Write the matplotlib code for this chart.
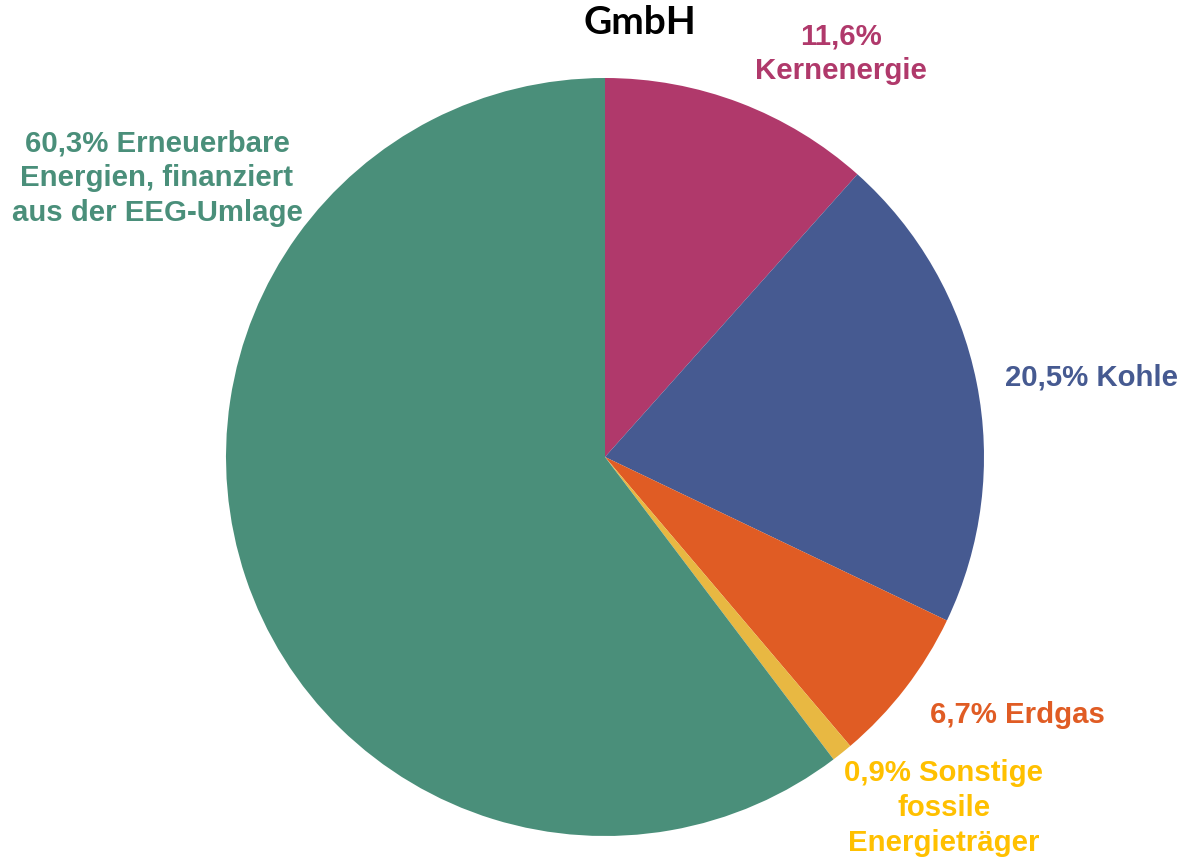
import matplotlib.pyplot as plt

# data
categories = ['Kernenergie', 'Kohle', 'Erdgas', 'Sonstige fossile Energieträger',
              'Erneuerbare Energien, finanziert aus der EEG-Umlage']
shares = [11.6, 20.5, 6.7, 0.9, 60.3]
label_texts = ['11,6%\nKernenergie', '20,5% Kohle', '6,7% Erdgas',
               '0,9% Sonstige\nfossile\nEnergieträger',
               '60,3% Erneuerbare\nEnergien, finanziert\naus der EEG-Umlage']

wedge_colors = ['#B0396B', '#465A91', '#E05C24', '#E8B842', '#4A8F7A']
label_colors = ['#B0396B', '#465A91', '#E05C24', '#FFC000', '#4A8F7A']

W, H = 1183, 861
fig = plt.figure(figsize=(W / 100, H / 100), dpi=100)
ax = fig.add_axes([0, 0, 1, 1])

# pie in pixel-like coordinates (y axis inverted -> counterclock=True gives clockwise on screen)
ax.pie(shares, colors=wedge_colors, startangle=-90, counterclock=True,
       center=(605, 457), radius=379, wedgeprops=dict(linewidth=0),
       frame=True)
ax.set_xlim(0, W)
ax.set_ylim(H, 0)
ax.set_aspect('equal')
ax.axis('off')

# label placement (x, y, ha)
label_pos = [(841, 54, 'center'), (1005, 377, 'left'), (930, 715, 'left'),
             (944, 808, 'center'), (157, 178, 'center')]
for txt, col, (x, y, ha) in zip(label_texts, label_colors, label_pos):
    ax.text(x, y, txt, color=col, ha=ha, va='center', multialignment='center',
            fontsize=21.2, fontweight='bold', family='Liberation Sans', linespacing=1.3)

ax.text(640, 23, 'GmbH', ha='center', va='center', fontsize=28,
        fontweight='bold', family='Lato', color='black')

fig.savefig('out.png', dpi=100)
